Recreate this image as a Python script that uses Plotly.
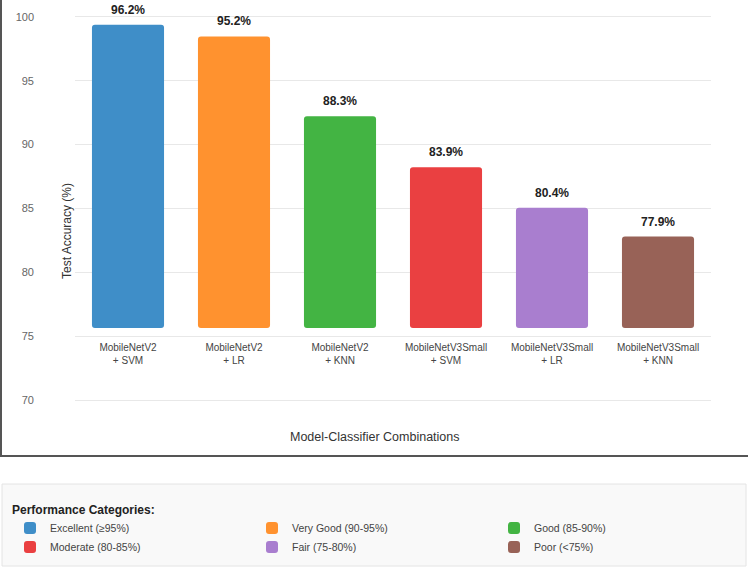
import plotly.graph_objects as go

# ---- data ----
models = ["MobileNetV2", "MobileNetV2", "MobileNetV2",
          "MobileNetV3Small", "MobileNetV3Small", "MobileNetV3Small"]
classifiers = ["SVM", "LR", "KNN", "SVM", "LR", "KNN"]
accuracy = [96.2, 95.2, 88.3, 83.9, 80.4, 77.9]
categories = ["Excellent (≥95%)", "Very Good (90-95%)", "Good (85-90%)",
              "Moderate (80-85%)", "Fair (75-80%)", "Poor (<75%)"]
bar_colors = ["#3f8ec8", "#ff922f", "#43b443", "#ea4041", "#a97ecf", "#986257"]
y_ticks = [70, 75, 80, 85, 90, 95, 100]
baseline = 70

labels = [f"{m}<br>+ {c}" for m, c in zip(models, classifiers)]

W, H = 750, 569
ML, MR, MT, MB = 12, 5, 4, 156
PW = W - ML - MR
PH = H - MT - MB


def px_x(p):
    return (p - ML) / PW


def px_y(p):
    return (H - MB - p) / PH


FONT = "Arial, Liberation Sans, sans-serif"

fig = go.Figure()
# accuracy-axis subplot (grid + tick labels); invisible points keep it drawn
fig.add_trace(go.Scatter(
    x=labels, y=accuracy, xaxis="x", yaxis="y", mode="markers",
    marker=dict(opacity=0, size=1), showlegend=False, hoverinfo="skip",
))
for lab, acc, cat, col in zip(labels, accuracy, categories, bar_colors):
    fig.add_trace(go.Bar(
        x=[lab], y=[acc - baseline], base=baseline, xaxis="x2", yaxis="y2",
        name=cat, width=0.68,
        marker=dict(color=col, cornerradius=3, line=dict(width=0)),
        hovertemplate=f"{lab}: {acc}%<extra></extra>",
    ))

annotations = []
for lab, acc in zip(labels, accuracy):
    annotations.append(dict(
        x=lab, y=acc, xref="x2", yref="y2", yanchor="bottom",
        yshift=6, showarrow=False, text=f"<b>{acc}%</b>",
        font=dict(family=FONT, size=12, color="#222"),
    ))
annotations.append(dict(
    x=px_x(67), y=px_y(231), xref="paper", yref="paper", showarrow=False,
    xanchor="center", yanchor="middle",
    text="Test Accuracy (%)", textangle=-90,
    font=dict(family=FONT, size=12, color="#333"),
))
annotations.append(dict(
    x=px_x(375), y=px_y(437), xref="paper", yref="paper", showarrow=False,
    xanchor="center", yanchor="middle",
    text="Model-Classifier Combinations",
    font=dict(family=FONT, size=12.5, color="#333"),
))

shapes = [
    dict(type="rect", xref="paper", yref="paper",
         x0=px_x(2), x1=px_x(746), y0=px_y(484), y1=px_y(566),
         fillcolor="#f9f9f9", line=dict(color="#e4e4e4", width=1), layer="below"),
    dict(type="line", xref="paper", yref="paper",
         x0=px_x(1), x1=px_x(1), y0=px_y(0), y1=px_y(456),
         line=dict(color="#555", width=2)),
    dict(type="line", xref="paper", yref="paper",
         x0=px_x(0), x1=px_x(748), y0=px_y(456), y1=px_y(456),
         line=dict(color="#555", width=2)),
]

x_dom = [px_x(75), px_x(711)]

fig.update_layout(
    width=W, height=H,
    margin=dict(l=ML, r=MR, t=MT, b=MB),
    paper_bgcolor="white", plot_bgcolor="rgba(0,0,0,0)",
    barmode="overlay",
    font=dict(family=FONT, color="#444"),
    # accuracy grid subplot: x / y (drawn first, underneath)
    xaxis=dict(domain=x_dom, anchor="y", visible=False),
    yaxis=dict(
        domain=[0, 1], anchor="x",
        range=[69, 101], tickvals=y_ticks, side="left",
        ticks="", ticklabelstandoff=40,
        showline=False, zeroline=False,
        showgrid=True, gridcolor="#e8e8e8", gridwidth=1,
        tickfont=dict(size=11, color="#666"),
    ),
    # bar subplot: x2 / y2 (drawn on top)
    xaxis2=dict(
        domain=x_dom, anchor="y2",
        showgrid=False, showline=False, zeroline=False, ticks="",
        tickfont=dict(size=10, color="#444"),
    ),
    yaxis2=dict(
        domain=[px_y(340), 1], anchor="x2",
        range=[68.963, 98.0], visible=False, showgrid=False,
    ),
    showlegend=True,
    legend=dict(
        orientation="h", xref="container", yref="container",
        x=10 / W, y=1 - 498 / H, xanchor="left", yanchor="top",
        entrywidth=197, entrywidthmode="pixels",
        bgcolor="rgba(0,0,0,0)",
        title=dict(text="<b>Performance Categories:</b>", side="top",
                   font=dict(size=12, color="#222")),
        font=dict(size=10.5, color="#444"),
        tracegroupgap=0,
    ),
    annotations=annotations,
    shapes=shapes,
)

fig.write_html("out.html")
